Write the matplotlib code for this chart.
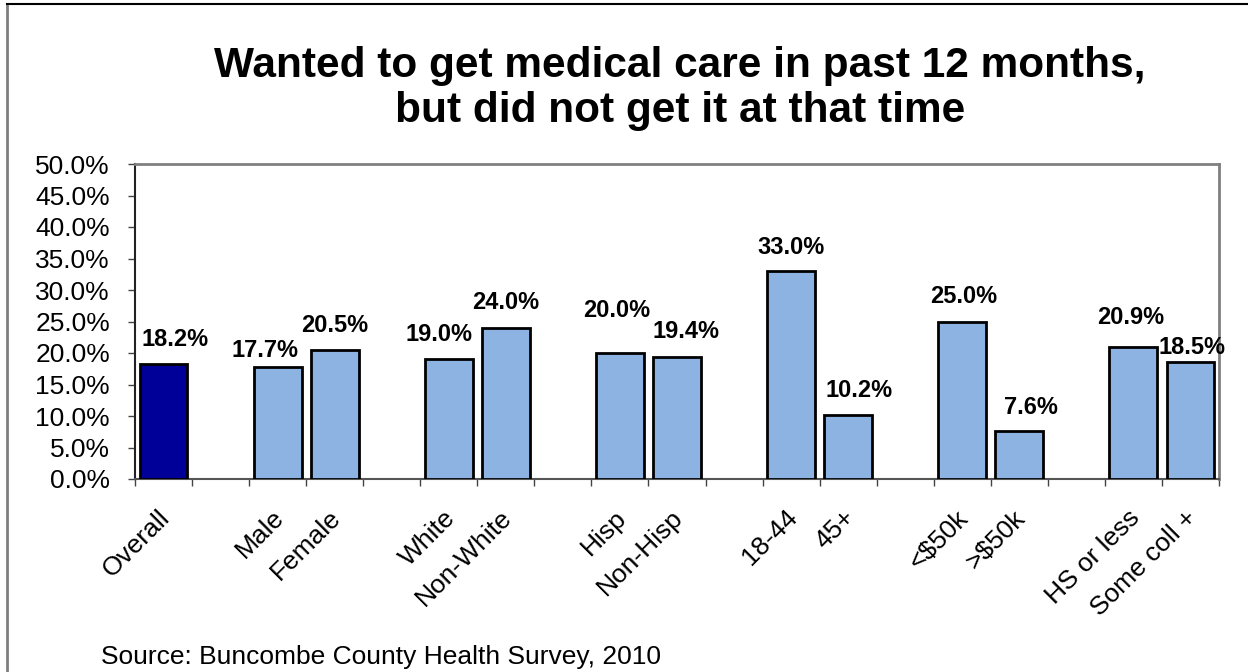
import matplotlib
matplotlib.use("Agg")
import matplotlib.pyplot as plt
import matplotlib.transforms as mtransforms
from matplotlib.lines import Line2D
import numpy as np

plt.rcParams['font.family'] = ['Liberation Sans', 'DejaVu Sans']

# ---- data ----
groups = [["Overall"], ["Male", "Female"], ["White", "Non-White"], ["Hisp", "Non-Hisp"],
          ["18-44", "45+"], ["<$50k", ">$50k"], ["HS or less", "Some coll +"]]
values = [18.2, 17.7, 20.5, 19.0, 24.0, 20.0, 19.4, 33.0, 10.2, 25.0, 7.6, 20.9, 18.5]
y_ticks = [0, 5, 10, 15, 20, 25, 30, 35, 40, 45, 50]
title_lines = ["Wanted to get medical care in past 12 months,", "but did not get it at that time"]
source = "Source: Buncombe County Health Survey, 2010"

# label nudges (slot units, percent units)
label_dx = [0.2, -0.22, 0.0, -0.18, 0.0, -0.06, 0.16, 0.0, 0.19, 0.02, 0.2, -0.05, 0.03]
label_dy = [3.9, 2.7, 3.9, 3.9, 4.0, 6.7, 4.0, 3.8, 3.8, 4.0, 3.7, 4.7, 2.4]

# ---- layout of slots (one blank slot between groups) ----
positions, labels = [], []
slot = 0
for gi, g in enumerate(groups):
    for name in g:
        positions.append(slot)
        labels.append(name)
        slot += 1
    slot += 1
n_slots = slot - 1
positions = np.array(positions)

W, H = 1248, 672
fig = plt.figure(figsize=(W / 100, H / 100), dpi=100)
ax = fig.add_axes([135 / W, (H - 479) / H, (1219 - 135) / W, (479 - 164) / H])

colors = ["#000099"] + ["#8DB3E2"] * (len(values) - 1)
ax.bar(positions, values, width=0.84, color=colors, edgecolor="black", linewidth=2.0, zorder=3)

for x, v, dx, dy in zip(positions, values, label_dx, label_dy):
    ax.text(x + dx, v + dy, f"{v:.1f}%", ha="center", va="center",
            fontsize=17, fontweight="bold", color="black", zorder=4)

ax.set_xlim(-0.5, n_slots - 0.5)
ax.set_ylim(0, 50)
ax.set_yticks(y_ticks)
ax.set_yticklabels([f"{t:.1f}%" for t in y_ticks], fontsize=19)
ax.tick_params(axis="y", direction="out", length=5, width=1, color="#444444", pad=13)

ax.set_xticks(positions)
ax.set_xticklabels(labels, rotation=45, ha="right", rotation_mode="anchor", fontsize=19)
ax.tick_params(axis="x", which="major", length=0, pad=19)
shift = mtransforms.ScaledTranslation(-6 / 100, 0, fig.dpi_scale_trans)
for lab in ax.get_xticklabels():
    lab.set_transform(lab.get_transform() + shift)
ax.set_xticks(np.arange(-0.5, n_slots, 1.0), minor=True)
ax.tick_params(axis="x", which="minor", direction="out", length=5, width=1, color="#444444")

for s in ["top", "right"]:
    ax.spines[s].set_color("#808080")
    ax.spines[s].set_linewidth(2)
ax.spines["left"].set_color("#222222")
ax.spines["left"].set_linewidth(1.5)
ax.spines["bottom"].set_color("#555555")
ax.spines["bottom"].set_linewidth(1.5)

# title
fig.text(680 / W, 1 - 77 / H, title_lines[0], ha="center", va="baseline",
         fontsize=30.5, fontweight="bold")
fig.text(680 / W, 1 - 122 / H, title_lines[1], ha="center", va="baseline",
         fontsize=30.5, fontweight="bold")

# source
fig.text(101 / W, 1 - 664 / H, source, ha="left", va="baseline", fontsize=19)

# outer frame (left and top edges)
fig.add_artist(Line2D([7 / W, 7 / W], [0, 1 - 4 / H], transform=fig.transFigure,
                      color="#808080", linewidth=2))
fig.add_artist(Line2D([7 / W, 1], [1 - 4 / H, 1 - 4 / H], transform=fig.transFigure,
                      color="black", linewidth=1.5))

fig.savefig("out.png", dpi=100)
